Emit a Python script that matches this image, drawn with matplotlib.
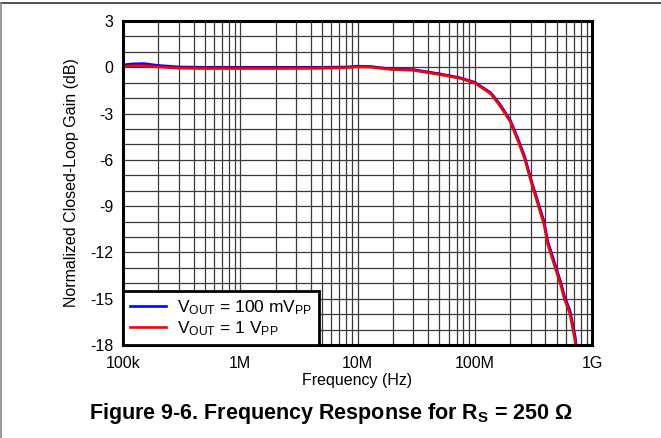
import matplotlib
matplotlib.use("Agg")
import matplotlib.pyplot as plt
from matplotlib.lines import Line2D
from matplotlib.ticker import LogLocator, FixedLocator, NullFormatter

plt.rcParams['font.family'] = ['Liberation Sans', 'DejaVu Sans']
plt.rcParams['mathtext.fontset'] = 'custom'
plt.rcParams['mathtext.rm'] = 'Liberation Sans'
plt.rcParams['mathtext.it'] = 'Liberation Sans:italic'
plt.rcParams['mathtext.bf'] = 'Liberation Sans:bold'

# Frequency (Hz) and normalized closed-loop gain (dB)
freq_hz = [1e5, 1.2e5, 1.5e5, 2e5, 3e5, 5e5, 1e6, 2e6, 5e6, 8e6, 1e7, 1.3e7,
           2e7, 3e7, 5e7, 7.5e7, 1e8, 1.37e8, 1.64e8, 2e8, 2.33e8, 2.67e8,
           3e8, 3.9e8, 4.2e8, 5.4e8, 5.8e8, 6.5e8, 7.2e8, 7.4e8]
gain_100mvpp = [0.15, 0.22, 0.24, 0.12, 0.02, 0.0, 0.0, 0.0, 0.0, 0.02, 0.07, 0.05,
                -0.12, -0.15, -0.42, -0.68, -0.97, -1.65, -2.4, -3.4, -4.6, -5.8,
                -7.2, -10.0, -11.3, -13.9, -14.8, -15.8, -17.5, -18.3]
gain_1vpp = [0.05, 0.1, 0.1, 0.02, -0.06, -0.08, -0.08, -0.08, -0.07, -0.03, 0.02, 0.0,
             -0.15, -0.2, -0.47, -0.72, -1.02, -1.72, -2.5, -3.5, -4.75, -5.95,
             -7.35, -10.2, -11.5, -14.1, -15.0, -16.0, -17.8, -18.5]

x_ticks = [1e5, 1e6, 1e7, 1e8, 1e9]
x_tick_labels = ['100k', '1M', '10M', '100M', '1G']
y_ticks = [3, 0, -3, -6, -9, -12, -15, -18]

fig = plt.figure(figsize=(6.61, 4.38), dpi=100)
ax = fig.add_axes([123 / 661, 1 - 345 / 438, (592 - 123) / 661, (345 - 21) / 438])

ax.plot(freq_hz, gain_100mvpp, color='#0000ff', lw=1.9,
        label=r'V$_{\mathrm{OUT}}$ = 100 mV$_{\mathrm{PP}}$', zorder=3)
ax.plot(freq_hz, gain_1vpp, color='#ff0000', lw=1.9,
        label=r'V$_{\mathrm{OUT}}$ = 1 V$_{\mathrm{PP}}$', zorder=4)

ax.set_xscale('log')
ax.set_xlim(1e5, 1e9)
ax.set_ylim(-18, 3)
ax.xaxis.set_major_locator(FixedLocator(x_ticks))
ax.set_xticklabels(x_tick_labels)
ax.xaxis.set_minor_locator(LogLocator(base=10, subs=range(2, 10)))
ax.xaxis.set_minor_formatter(NullFormatter())
ax.set_yticks(y_ticks)
ax.set_yticklabels([str(v) for v in y_ticks])
ax.yaxis.set_minor_locator(FixedLocator(range(-18, 4)))

ax.grid(True, which='both', color='#3a3a3a', lw=0.9)
ax.tick_params(axis='x', which='both', length=0, labelsize=11.5, pad=8)
ax.tick_params(axis='y', which='both', length=0, labelsize=11.5, pad=7)

for sp in ax.spines.values():
    sp.set_linewidth(2.2)
    sp.set_zorder(5)

ax.set_xlabel('Frequency (Hz)', fontsize=11.5, labelpad=1)
ax.set_ylabel('Normalized Closed-Loop Gain (dB)', fontsize=11.5, labelpad=8)

leg = ax.legend(loc='lower left', borderaxespad=0, fancybox=False,
                fontsize=12.5, handlelength=2.1, handletextpad=0.6,
                borderpad=0.4, labelspacing=0.15, framealpha=1)
leg.get_frame().set_edgecolor('black')
leg.get_frame().set_linewidth(2.0)
leg.set_zorder(6)

fig.text(0.5, 1 - 414 / 438, r'Figure 9-6. Frequency Response for R$_{\mathbf{S}}$ = 250 Ω',
         ha='center', va='center', fontsize=15.5, fontweight='bold')

# page frame lines
fig.add_artist(Line2D([0, 1], [1 - 3 / 438, 1 - 3 / 438], color='#333333', lw=1.2))
fig.add_artist(Line2D([0.5 / 661, 0.5 / 661], [0, 1 - 3 / 438], color='#888888', lw=1.2))

fig.savefig('out.png', dpi=100)
